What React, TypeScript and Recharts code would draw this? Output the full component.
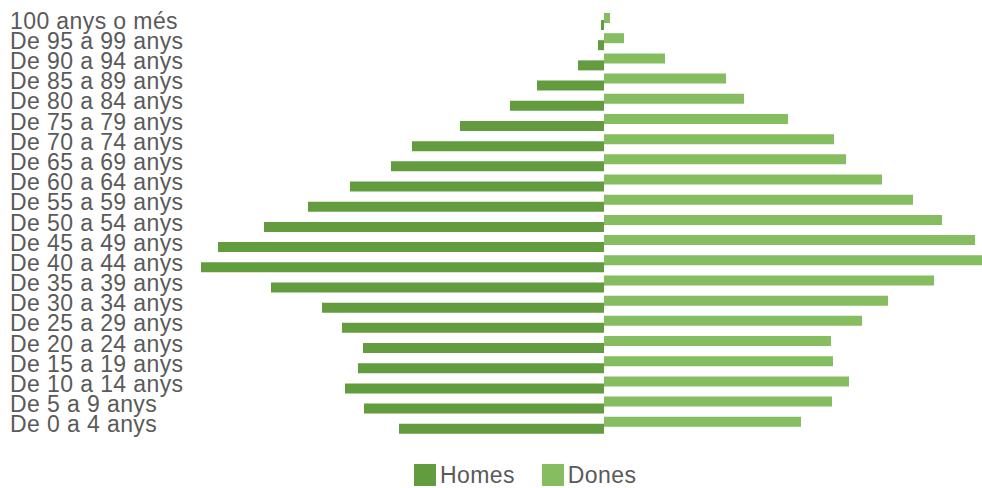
import React from "react";
import { BarChart, Bar, XAxis, YAxis, Legend } from "recharts";

const ageGroups: string[] = [
  "100 anys o més",
  "De 95 a 99 anys",
  "De 90 a 94 anys",
  "De 85 a 89 anys",
  "De 80 a 84 anys",
  "De 75 a 79 anys",
  "De 70 a 74 anys",
  "De 65 a 69 anys",
  "De 60 a 64 anys",
  "De 55 a 59 anys",
  "De 50 a 54 anys",
  "De 45 a 49 anys",
  "De 40 a 44 anys",
  "De 35 a 39 anys",
  "De 30 a 34 anys",
  "De 25 a 29 anys",
  "De 20 a 24 anys",
  "De 15 a 19 anys",
  "De 10 a 14 anys",
  "De 5 a 9 anys",
  "De 0 a 4 anys",
];

const homes: number[] = [
  30, 60, 260, 670, 940, 1440, 1920, 2130, 2540, 2960, 3400, 3860, 4030, 3330,
  2820, 2620, 2410, 2460, 2590, 2400, 2050,
];

const dones: number[] = [
  60, 200, 610, 1220, 1400, 1840, 2300, 2420, 2780, 3090, 3380, 3710, 3780,
  3300, 2840, 2580, 2270, 2290, 2450, 2280, 1970,
];

const seriesNames: string[] = ["Homes", "Dones"];
const HOMES_COLOR = "#639c3f";
const DONES_COLOR = "#86bd60";
const TEXT_COLOR = "#5a5a5a";
const FONT = "'Liberation Sans', Arial, sans-serif";

const data = ageGroups.map((age, i) => ({
  age,
  homes: -homes[i],
  dones: dones[i],
}));

const AgeTick = (props: any) => {
  const { y, payload } = props;
  return (
    <text
      x={10}
      y={y}
      dy={7.5}
      textAnchor="start"
      fill={TEXT_COLOR}
      fontSize={23}
      fontFamily={FONT}
      letterSpacing={0.4}
    >
      {payload.value}
    </text>
  );
};

const renderLegend = () => {
  const colors = [HOMES_COLOR, DONES_COLOR];
  return (
    <div
      style={{
        display: "flex",
        alignItems: "center",
        fontFamily: FONT,
        fontSize: 23,
        color: TEXT_COLOR,
        letterSpacing: 0.4,
        lineHeight: "26px",
      }}
    >
      {seriesNames.map((name, i) => (
        <div
          key={name}
          style={{ display: "flex", alignItems: "center", marginRight: 27 }}
        >
          <span
            style={{
              display: "inline-block",
              width: 22,
              height: 22,
              background: colors[i],
              marginRight: 4,
            }}
          />
          <span>{name}</span>
        </div>
      ))}
    </div>
  );
};

export default function App() {
  return (
    <div style={{ position: "absolute", left: 0, top: 0, background: "#fff" }}>
      <BarChart
        width={982}
        height={488}
        data={data}
        layout="vertical"
        margin={{ top: 11, right: 0, bottom: 53, left: 0 }}
        barGap={-3}
        barSize={10}
      >
        <XAxis
          type="number"
          domain={[-4100, 3780]}
          allowDataOverflow
          hide
        />
        <YAxis
          type="category"
          dataKey="age"
          width={194}
          interval={0}
          axisLine={false}
          tickLine={false}
          tick={<AgeTick />}
        />
        <Legend
          layout="horizontal"
          align="center"
          verticalAlign="middle"
          content={renderLegend}
          wrapperStyle={{ left: 414, top: 462, width: "auto" }}
        />
        <Bar
          dataKey="dones"
          name="Dones"
          fill={DONES_COLOR}
          isAnimationActive={false}
        />
        <Bar
          dataKey="homes"
          name="Homes"
          fill={HOMES_COLOR}
          isAnimationActive={false}
        />
      </BarChart>
    </div>
  );
}
